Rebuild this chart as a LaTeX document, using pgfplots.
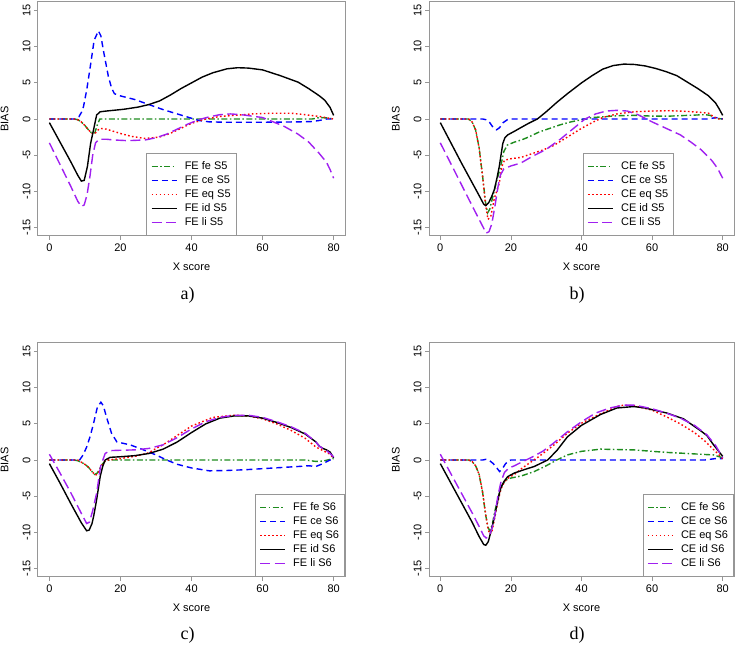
\documentclass[border=0pt]{standalone}
\usepackage{pgfplots}
\pgfplotsset{compat=1.18}
\usepackage{fontspec}
\setmainfont{Liberation Sans}
\newfontfamily\capfont{Liberation Serif}
\newcommand{\fs}{\fontsize{11}{13}\selectfont}
\definecolor{rgreen}{RGB}{30,140,30}
\definecolor{rblue}{RGB}{0,0,255}
\definecolor{rred}{RGB}{255,0,0}
\definecolor{rpurple}{RGB}{160,32,240}
\definecolor{rframe}{RGB}{150,150,150}
\tikzset{
  lfe/.style={draw=rgreen, line width=1.4pt, dash pattern=on 6pt off 2.5pt on 1.5pt off 2.5pt},
  lce/.style={draw=rblue, line width=1.4pt, dash pattern=on 6pt off 4pt},
  leq/.style={draw=rred, line width=1.4pt, dash pattern=on 1.6pt off 2.4pt},
  lid/.style={draw=black, line width=1.4pt, solid},
  lli/.style={draw=rpurple, line width=1.4pt, dash pattern=on 10pt off 4.5pt},
}
\pgfplotsset{
  rstyle/.style={
    scale only axis, height=234pt,
    xmin=-3.2, xmax=83.2, ymin=-16.2, ymax=16.2,
    xtick={0,20,40,60,80}, xticklabels={0,20,40,60,80},
    ytick={-15,-10,-5,0,5,10,15}, yticklabels={-15,-10,-5,0,5,10,15},
    tick align=outside, xtick pos=lower, ytick pos=left,
    major tick length=4pt,
    tick style={rframe, line width=0.8pt},
    axis line style={rframe, line width=1pt},
    yticklabel style={rotate=90, anchor=south, font=\fs},
    xticklabel style={font=\fs},
    xlabel={X score}, ylabel={BIAS},
    label style={font=\fs},
    xlabel style={at={(axis description cs:0.5,-0.1325)}, anchor=center},
    ylabel style={at={(axis description cs:-0.109,0.5)}, anchor=center},
    legend cell align=left,
    legend style={draw=rframe, line width=0.8pt, fill=white, font=\fs,
      inner xsep=4pt, inner ysep=6pt, row sep=0pt,
      nodes={inner sep=1.5pt, text height=8.5pt, text depth=2.5pt}},
  },
  fe/.style={lfe, legend image code/.code={\color{rgreen}\draw[lfe] (0pt,0pt) -- (25pt,0pt); \path (31pt,0pt);}},
  ce/.style={lce, legend image code/.code={\color{rblue}\draw[lce] (0pt,0pt) -- (25pt,0pt); \path (31pt,0pt);}},
  eq/.style={leq, legend image code/.code={\color{rred}\draw[leq] (0pt,0pt) -- (25pt,0pt); \path (31pt,0pt);}},
  id/.style={lid, legend image code/.code={\color{black}\draw[lid] (0pt,0pt) -- (25pt,0pt); \path (31pt,0pt);}},
  li/.style={lli, legend image code/.code={\color{rpurple}\draw[lli] (0pt,0pt) -- (25pt,0pt); \path (31pt,0pt);}},
}
\begin{document}
\begin{tikzpicture}
% ---------------- a)
\begin{axis}[rstyle, width=307pt, at={(38pt,412pt)}, anchor=south west,
  legend style={at={(0.5,0)}, anchor=south}]
\addplot[fe] coordinates {(0,0)(7,0)(8,-0.1)(9,-0.4)(10,-0.9)(11,-1.5)(12,-2.0)(12.8,-1.9)(13.5,-0.8)(14.2,0)(20,0)(40,0)(60,0)(74,0)(76,0.2)(78,0.15)(80,0)};
\addplot[ce] coordinates {(0,0)(7.5,0)(8.3,0.3)(9,0.9)(9.6,1.7)(10.5,4.0)(11.5,7.2)(12.6,10.9)(13.8,12.2)(14.5,11.5)(15.2,9.5)(16.6,5.9)(17.5,4.3)(18.3,3.5)(20,3.2)(24,2.7)(28,2.0)(32,1.3)(36,0.7)(40,0.1)(42,-0.2)(45,-0.4)(50,-0.45)(60,-0.45)(70,-0.4)(74,-0.35)(76,-0.2)(78,0)(80,0)};
\addplot[eq] coordinates {(0,0)(7,0)(8,-0.1)(9,-0.4)(10,-0.9)(11,-1.5)(12,-2.0)(12.7,-2.1)(13.5,-1.6)(14.3,-1.3)(16,-1.4)(18,-1.7)(20,-2.0)(23,-2.4)(27,-2.7)(31,-2.5)(34,-2.0)(37,-1.3)(40,-0.6)(44,0)(48,0.35)(52,0.5)(57,0.7)(63,0.8)(68,0.8)(72,0.6)(76,0.35)(80,0)};
\addplot[id] coordinates {(0,-0.5)(3,-3.2)(6,-5.9)(8,-7.8)(9,-8.6)(9.8,-8.5)(10.7,-6.6)(11.6,-3.4)(12.6,-1.1)(13.3,0.55)(14.3,1.0)(16,1.1)(18,1.2)(21,1.35)(25,1.65)(28,2.0)(31,2.5)(34,3.3)(37,4.2)(40,5.0)(43,5.8)(46,6.4)(50,6.95)(53,7.1)(56,7.05)(60,6.8)(65,6.0)(70,5.1)(73,4.2)(76,3.2)(77.5,2.6)(79,1.6)(80,0.5)};
\addplot[li] coordinates {(0,-3.3)(3,-6.3)(6,-9.3)(8,-11.4)(9,-12.1)(9.8,-11.9)(10.6,-10.5)(11.4,-8)(12.2,-5)(13,-3.3)(14,-2.8)(16,-2.8)(18,-2.9)(22,-3.0)(27,-2.9)(30,-2.6)(33,-2.1)(36,-1.4)(39,-0.7)(42,-0.1)(45,0.3)(48,0.6)(51,0.7)(54,0.6)(57,0.4)(60,0.2)(62,-0.2)(66,-1.0)(70,-2.1)(73,-3.2)(76,-4.8)(78,-6.0)(79,-7)(80,-8.2)};
\legend{FE fe S5, FE ce S5, FE eq S5, FE id S5, FE li S5}
\end{axis}
% ---------------- b)
\begin{axis}[rstyle, width=305pt, at={(429pt,412pt)}, anchor=south west,
  legend style={at={(0.654,0)}, anchor=south}]
\addplot[fe] coordinates {(0,0)(8,0)(9,-0.4)(10,-1.5)(11,-4)(12,-8)(12.8,-11.5)(13.4,-13.0)(14,-12.5)(15,-10.5)(16,-8.5)(17,-6.8)(18,-4.5)(19,-3.6)(21,-3.2)(23,-2.9)(25,-2.5)(28,-1.8)(31,-1.3)(34,-0.8)(37,-0.4)(40,-0.1)(43,0.2)(46,0.3)(50,0.45)(55,0.5)(60,0.4)(65,0.4)(70,0.5)(75,0.6)(76.5,0.5)(78,0.1)(80,0)};
\addplot[ce] coordinates {(0,0)(12,0)(13,-0.1)(14,-0.5)(15,-1.2)(15.9,-1.5)(16.8,-1.2)(17.8,-0.5)(19,-0.1)(20,0)(76,0)(78,0.2)(80,0)};
\addplot[eq] coordinates {(0,0)(8,0)(9,-0.4)(10,-1.5)(11,-4)(12,-8)(12.8,-11.8)(13.5,-13.9)(14.3,-13.5)(15.3,-11)(16.7,-8.9)(17.5,-6.5)(18.2,-5.7)(20,-5.5)(23,-5.3)(26,-4.8)(29,-4.3)(32,-3.7)(35,-2.8)(38,-1.9)(40,-1.3)(43,-0.5)(46,0.2)(50,0.7)(55,1.0)(60,1.1)(65,1.15)(70,1.05)(74,0.9)(76,0.8)(77.5,0.3)(78.5,0)(80,0)};
\addplot[id] coordinates {(0,-0.5)(3,-3.3)(6,-6.1)(9,-8.8)(11,-10.6)(12.3,-11.8)(12.9,-12.0)(13.7,-11.6)(14.5,-10.8)(15.3,-9.8)(16,-8.3)(16.7,-6.6)(17.2,-5)(17.7,-3.4)(18.3,-2.6)(19.1,-2.2)(21,-1.7)(22.8,-1.2)(25,-0.6)(27.5,0)(30,1.0)(33,2.3)(36,3.5)(40,5.0)(43,6.0)(46,6.9)(49,7.4)(52,7.6)(55,7.55)(58,7.35)(61,7.0)(64,6.55)(67,6.0)(70,5.1)(73,4.2)(76,3.2)(78,2.2)(79,1.4)(80,0.5)};
\addplot[li] coordinates {(0,-3.3)(3,-6.2)(6,-9.1)(9,-12)(11,-13.9)(13,-15.8)(13.8,-15.6)(14.6,-14.5)(15.5,-12)(16.3,-9.5)(17,-7.8)(18,-6.9)(20,-6.5)(22.8,-6.1)(26,-5.2)(30,-4.2)(34,-2.8)(38,-1.2)(41,0)(44,0.7)(47,1.1)(50,1.2)(53,1.1)(56,0.6)(60,-0.4)(64,-1.3)(68,-2.2)(71,-3.2)(74,-4.3)(77,-5.8)(78.5,-6.8)(80,-8.2)};
\legend{CE fe S5, CE ce S5, CE eq S5, CE id S5, CE li S5}
\end{axis}
% ---------------- c)
\begin{axis}[rstyle, width=307pt, at={(38pt,71pt)}, anchor=south west,
  legend style={at={(1,0)}, anchor=south east}]
\addplot[fe] coordinates {(0,0)(7,0)(8,-0.1)(9,-0.3)(10,-0.6)(11,-1.0)(12,-1.6)(12.7,-2.0)(13.5,-1.8)(14.3,-1.1)(15,-0.5)(15.8,-0.1)(17,0)(72,0)(75,-0.2)(77,-0.15)(80,0.2)};
\addplot[ce] coordinates {(0,0)(8.5,0)(9.5,0.7)(10.5,1.8)(11.5,3.3)(12.4,5.0)(13.5,7.3)(14.5,8.0)(15.2,7.5)(16.1,5.9)(17.5,3.7)(19,2.5)(22.7,2.1)(26,1.5)(28,1.1)(30,0.7)(33,0)(36,-0.6)(40,-1.1)(45,-1.5)(50,-1.45)(55,-1.35)(60,-1.2)(65,-1.05)(70,-0.9)(73,-0.8)(75,-0.9)(77,-0.5)(79,0)(80,0.1)};
\addplot[eq] coordinates {(0,0)(8,0)(9,-0.3)(10,-0.6)(11,-1.0)(12,-1.6)(13,-2.1)(13.7,-1.9)(14.5,-1.0)(15.3,-0.3)(16.5,0)(20,0.2)(24,0.5)(28,1.0)(30,1.6)(32,2.1)(36,3.4)(40,4.7)(44,5.5)(46,5.9)(48,6.0)(52,6.2)(56,6.1)(60,5.7)(64,5.0)(68,4.1)(72,3.0)(75,1.8)(77,1.3)(79,0.8)(80,0.2)};
\addplot[id] coordinates {(0,-0.5)(3,-3.2)(6,-6.0)(9,-8.7)(10.5,-9.8)(11.2,-9.7)(12,-8.8)(12.5,-7.7)(13.3,-5.5)(14.3,-2.3)(15,-0.9)(15.7,0)(17.1,0.37)(20,0.45)(24,0.6)(28,0.9)(32,1.5)(36,2.5)(40,3.8)(44,5.0)(48,5.8)(52,6.1)(56,6.1)(60,5.8)(64,5.2)(68,4.5)(72,3.6)(75,2.5)(76,1.9)(77,1.6)(78,1.4)(79,1.1)(80,0.3)};
\addplot[li] coordinates {(0,0.8)(3,-1.8)(6,-4.5)(9,-7.4)(10.5,-8.8)(11.3,-8.6)(12.2,-7)(13.3,-4.6)(14.4,-0.9)(15.7,0.9)(17.1,1.3)(20,1.35)(24,1.4)(28,1.6)(32,2.1)(36,3.1)(40,4.3)(44,5.3)(48,5.9)(52,6.2)(56,6.2)(60,5.9)(64,5.3)(68,4.6)(72,3.7)(75,2.5)(76,1.9)(77,1.6)(78,1.3)(79,0.9)(80,0.4)};
\legend{FE fe S6, FE ce S6, FE eq S6, FE id S6, FE li S6}
\end{axis}
% ---------------- d)
\begin{axis}[rstyle, width=305pt, at={(429pt,71pt)}, anchor=south west,
  legend style={at={(1,0)}, anchor=south east}]
\addplot[fe] coordinates {(0,0)(8,0)(9,-0.2)(10,-0.8)(11,-2)(12,-4.5)(12.8,-7.5)(13.5,-9.3)(14,-9.8)(14.7,-9)(15.5,-7)(16.5,-5)(17.5,-3.5)(18.5,-2.8)(20,-2.5)(23,-2.2)(26.6,-1.6)(30,-0.8)(33,0)(36,0.7)(40,1.2)(45.4,1.5)(50,1.45)(54.8,1.4)(60,1.2)(64.2,1.05)(70,0.9)(73.6,0.8)(77.4,0.7)(80,0.3)};
\addplot[ce] coordinates {(0,0)(12,0)(13,0.1)(14,-0.1)(15,-0.5)(16,-1.1)(16.8,-1.6)(17.6,-1.2)(18.5,-0.5)(19.5,-0.1)(20,0)(75,0)(78,0.2)(80,0.2)};
\addplot[eq] coordinates {(0,0)(8,0)(9,-0.2)(10,-0.8)(11,-2)(12,-4.5)(12.8,-7.3)(13.5,-9.5)(14,-10.3)(14.6,-10)(15.3,-8.3)(16.2,-6)(17.2,-4)(18.2,-3)(19.5,-2.4)(21,-2)(23,-1.2)(25,-0.5)(28,0.5)(32,2.0)(36,3.7)(40,5.1)(45.4,6.4)(50,7.4)(52,7.6)(55,7.5)(60,6.9)(64,6.0)(68,5.0)(72,3.8)(75,2.6)(77.5,1.4)(80,0.2)};
\addplot[id] coordinates {(0,-0.5)(3,-3.2)(6,-5.9)(9,-8.6)(11,-10.6)(12.3,-11.7)(12.9,-11.8)(13.6,-11.3)(14.4,-9.8)(15.3,-8)(16.2,-5.8)(17,-4)(18,-3)(19.1,-2.3)(21,-1.8)(24,-1.3)(26.6,-0.9)(30.4,0)(33,1.3)(36,3.2)(40,4.8)(45.4,6.3)(50,7.2)(54.8,7.4)(58,7.2)(64.2,6.5)(68.9,5.7)(73.6,4.1)(75.5,3.4)(77.4,2.1)(80,0.5)};
\addplot[li] coordinates {(0,0.8)(3,-1.9)(6,-4.6)(9,-7.3)(11,-9.2)(12.3,-10.5)(13,-10.8)(13.8,-10.6)(14.6,-9.5)(15.5,-7.5)(16.3,-5)(17.2,-3)(18.2,-1.7)(19.5,-1.1)(21,-0.8)(23,-0.3)(26,0.4)(29,1.2)(32,2.3)(36,3.9)(40,5.3)(44,6.5)(48,7.2)(52,7.6)(55,7.6)(60,7.1)(64,6.5)(68,5.8)(72,4.8)(75.5,3.5)(78,2.0)(80,0.3)};
\legend{CE fe S6, CE ce S6, CE eq S6, CE id S6, CE li S6}
\end{axis}
\node[font=\capfont\fontsize{18}{20}\selectfont] at (187.5pt,353pt) {a)};
\node[font=\capfont\fontsize{18}{20}\selectfont] at (577pt,353pt) {b)};
\node[font=\capfont\fontsize{18}{20}\selectfont] at (187.5pt,13pt) {c)};
\node[font=\capfont\fontsize{18}{20}\selectfont] at (577pt,13pt) {d)};
\pgfresetboundingbox
\path[use as bounding box] (0pt,0pt) rectangle (737pt,648pt);
\end{tikzpicture}
\end{document}
